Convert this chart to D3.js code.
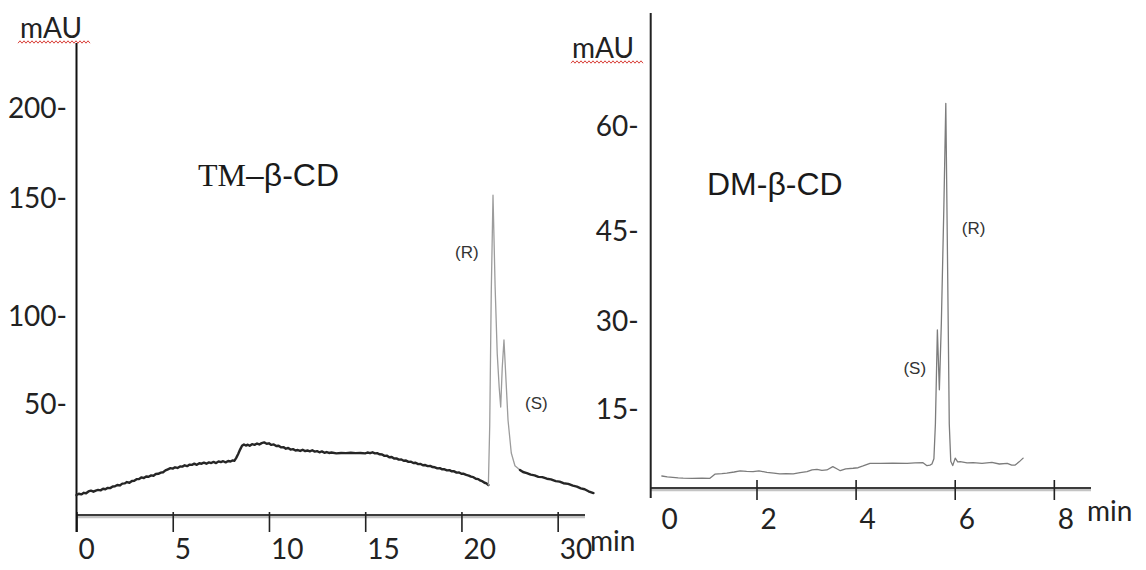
<!DOCTYPE html>
<html>
<head>
<meta charset="utf-8">
<script src="https://cdn.jsdelivr.net/npm/d3@7"></script>
<style>
  html, body { margin: 0; padding: 0; background: #ffffff; }
  svg { display: block; }
</style>
</head>
<body>
<svg id="chart" width="1146" height="570"></svg>
<script>
// ---------- TM-β-CD run ----------
const tmYTicks = [50, 100, 150, 200];
const tmXTicks = [0, 5, 10, 15, 20, 25];
const tmXTickLabels = ["0", "5", "10", "15", "20", "30"];

// detector baseline before the enantiomer peaks [min, mAU]
const tmBaseline = [
  [0.00, 8.9], [0.12, 9.5], [0.25, 9.2], [0.38, 9.9], [0.50, 9.7], [0.62, 10.5],
  [0.75, 10.9], [0.88, 10.4], [1.00, 10.9], [1.12, 11.2], [1.25, 11.0], [1.38, 11.7],
  [1.50, 11.5], [1.62, 12.1], [1.75, 12.0], [1.88, 12.7], [2.00, 12.8], [2.12, 13.4],
  [2.25, 13.2], [2.38, 14.0], [2.50, 14.1], [2.62, 14.7], [2.75, 14.4], [2.88, 15.2],
  [3.00, 15.3], [3.12, 16.0], [3.25, 16.1], [3.38, 16.8], [3.50, 16.5], [3.62, 17.2],
  [3.75, 17.1], [3.88, 17.7], [4.00, 17.5], [4.12, 18.3], [4.25, 18.4], [4.38, 18.9],
  [4.50, 19.1], [4.62, 19.9], [4.75, 20.4], [4.88, 20.9], [5.00, 20.7], [5.12, 21.3],
  [5.25, 21.0], [5.38, 21.7], [5.50, 21.6], [5.62, 22.2], [5.75, 21.8], [5.88, 22.5],
  [6.00, 22.4], [6.12, 22.9], [6.25, 22.4], [6.38, 23.1], [6.50, 22.9], [6.62, 23.4],
  [6.75, 22.9], [6.88, 23.5], [7.00, 23.2], [7.12, 23.7], [7.25, 23.2], [7.38, 23.9],
  [7.50, 23.6], [7.62, 24.0], [7.75, 23.5], [7.88, 24.1], [8.00, 23.9], [8.12, 24.4],
  [8.20, 24.2], [8.30, 25.5], [8.40, 27.2], [8.50, 29.2], [8.60, 30.9], [8.70, 31.5],
  [8.80, 31.0], [8.90, 31.4], [9.00, 30.9], [9.12, 31.6], [9.25, 31.3], [9.38, 31.9],
  [9.50, 31.5], [9.62, 32.1], [9.75, 32.4], [9.88, 31.8], [10.00, 32.0], [10.12, 31.3],
  [10.25, 31.5], [10.38, 30.8], [10.50, 30.9], [10.62, 30.2], [10.75, 30.3], [10.88, 29.6],
  [11.00, 29.9], [11.12, 29.2], [11.25, 29.4], [11.38, 28.8], [11.50, 29.0], [11.62, 28.6],
  [11.75, 29.1], [11.88, 28.5], [12.00, 28.8], [12.12, 28.4], [12.25, 28.9], [12.38, 28.3],
  [12.50, 28.5], [12.62, 28.0], [12.75, 28.4], [12.88, 27.8], [13.00, 28.1], [13.12, 27.7],
  [13.25, 27.9], [13.50, 27.5], [13.75, 27.7], [14.00, 27.6], [14.25, 27.8], [14.50, 27.6],
  [14.75, 27.7], [15.00, 27.5], [15.12, 27.9], [15.25, 27.6], [15.38, 28.0], [15.50, 27.5],
  [15.62, 27.6], [15.75, 27.1], [15.88, 27.0], [16.00, 26.4], [16.12, 26.5], [16.25, 25.8],
  [16.38, 25.9], [16.50, 25.2], [16.62, 25.3], [16.75, 24.7], [16.88, 24.8], [17.00, 24.2],
  [17.12, 24.3], [17.25, 23.7], [17.38, 23.8], [17.50, 23.2], [17.62, 23.3], [17.75, 22.7],
  [17.88, 22.8], [18.00, 22.2], [18.12, 22.3], [18.25, 21.8], [18.38, 21.9], [18.50, 21.4],
  [18.62, 21.3], [18.75, 20.8], [18.88, 20.9], [19.00, 20.4], [19.12, 20.4], [19.25, 19.9],
  [19.38, 20.0], [19.50, 19.5], [19.62, 19.5], [19.75, 18.9], [19.88, 19.0], [20.00, 18.4],
  [20.12, 18.4], [20.25, 17.9], [20.38, 17.6], [20.50, 17.1], [20.62, 16.9], [20.75, 16.2],
  [20.88, 16.0], [21.00, 15.3], [21.10, 15.0], [21.20, 14.4], [21.30, 14.1], [21.40, 13.4]
];

// (R) and (S) peaks
const tmPeaks = [
  [21.40, 13.4], [21.47, 40.0], [21.55, 110.0], [21.64, 151.0], [21.75, 112.0],
  [21.86, 78.0], [21.96, 59.1], [22.04, 48.2], [22.12, 70.0], [22.21, 85.8],
  [22.32, 62.0], [22.42, 42.4], [22.59, 27.7], [22.78, 22.0], [23.04, 20.1]
];

// baseline after the peaks
const tmTail = [
  [23.04, 20.1], [23.20, 19.2], [23.40, 18.7], [23.60, 18.0], [23.80, 17.7], [24.00, 17.0],
  [24.20, 16.9], [24.44, 16.2], [24.65, 15.9], [24.90, 15.1], [25.10, 14.9], [25.30, 14.2],
  [25.55, 13.9], [25.79, 13.1], [26.00, 12.7], [26.20, 11.9], [26.40, 11.5], [26.60, 10.6],
  [26.86, 9.8]
];

const tmPeakNames = [
  { text: "(R)", t: 21.64, v: 151.0 },
  { text: "(S)", t: 22.21, v: 85.8 }
];

// ---------- DM-β-CD run ----------
const dmYTicks = [15, 30, 45, 60];
const dmXTicks = [2, 4, 6, 8];
const dmXLabelValues = [0, 2, 4, 6, 8];
const dmXTickLabels = ["0", "2", "4", "6", "8"];

const dmTrace = [
  [0.09, 2.25], [0.20, 2.10], [0.31, 2.00], [0.42, 1.90], [0.52, 1.85], [0.70, 1.80],
  [0.90, 1.85], [1.06, 1.82], [1.16, 2.60], [1.30, 2.70], [1.40, 2.80], [1.55, 3.00],
  [1.67, 3.20], [1.80, 3.10], [1.93, 3.06], [2.05, 3.20], [2.21, 2.94], [2.35, 2.80],
  [2.47, 2.63], [2.60, 2.70], [2.74, 2.63], [2.88, 2.90], [3.02, 3.06], [3.12, 3.40],
  [3.22, 3.50], [3.32, 3.30], [3.42, 3.38], [3.54, 4.00], [3.62, 3.60], [3.69, 3.24],
  [3.80, 3.60], [3.95, 3.70], [4.05, 3.80], [4.15, 4.13], [4.29, 4.63], [4.50, 4.60],
  [4.75, 4.65], [5.04, 4.63], [5.20, 4.70], [5.36, 4.74], [5.44, 4.18], [5.50, 4.30],
  [5.54, 4.50], [5.58, 5.50], [5.61, 12.0], [5.65, 28.3], [5.69, 18.1], [5.73, 29.5],
  [5.78, 48.0], [5.82, 63.1], [5.86, 36.0], [5.89, 12.0], [5.92, 5.00], [5.96, 4.20],
  [6.01, 5.60], [6.06, 4.90], [6.11, 4.93], [6.25, 4.70], [6.37, 4.74], [6.55, 4.60],
  [6.75, 4.80], [6.90, 4.50], [7.06, 4.63], [7.15, 4.30], [7.22, 4.30], [7.30, 4.90],
  [7.38, 5.60]
];

const dmPeakNames = [
  { text: "(R)", t: 5.82, v: 63.1 },
  { text: "(S)", t: 5.65, v: 28.3 }
];

// ---------- layout ----------
const panels = [
  {
    title: [{ text: "TM", font: "'Liberation Serif', 'Times New Roman', serif" },
            { text: "–β-CD", font: "'Liberation Sans', Arial, sans-serif" }],
    titlePos: [198, 186],
    xDomain: [0, 26.42], xRange: [76.5, 585],
    yDomain: [0, 50, 100, 150, 200], yStops: [515, 403, 315, 197, 107],
    axisTop: 43, axisBelow: 17,
    yTicks: tmYTicks, yLabelGap: 9.5,
    xTicks: tmXTicks, xLabelValues: tmXTicks, xLabels: tmXTickLabels,
    xLabelDx: 2, xLabelBaseline: 44, tickUp: 3, tickDown: 17,
    minPos: [590, 551],
    unitPos: [20, 38], squiggle: [18, 90, 42],
    series: [
      { data: tmBaseline, color: "#262626", width: 2.4 },
      { data: tmPeaks, color: "#9c9c9c", width: 1.3 },
      { data: tmTail, color: "#262626", width: 2.4 }
    ],
    peakNames: tmPeakNames, peakOffsets: [[-38, 63], [21, 69]],
    yAxisColor: "#111", xAxisColor: "#3c3c3c"
  },
  {
    title: [{ text: "DM-β-CD", font: "'Liberation Sans', Arial, sans-serif" }],
    titlePos: [707, 195],
    xDomain: [-0.135, 8.75], xRange: [650.7, 1091],
    yDomain: [0, 15, 30, 45, 60], yStops: [488, 408, 320, 230, 125],
    axisTop: 13, axisBelow: 10,
    yTicks: dmYTicks, yLabelGap: 12,
    xTicks: dmXTicks, xLabelValues: dmXLabelValues, xLabels: dmXTickLabels,
    xLabelDx: 4, xLabelBaseline: 41, tickUp: 8, tickDown: 12,
    minPos: [1087, 521],
    unitPos: [572, 58], squiggle: [571, 644, 62],
    series: [
      { data: dmTrace, color: "#7c7c7c", width: 1.3 }
    ],
    peakNames: dmPeakNames, peakOffsets: [[16, 131], [-34, 44]],
    yAxisColor: "#222", xAxisColor: "#3c3c3c"
  }
];

const svg = d3.select("#chart");
const labelFont = "Lato, 'Open Sans', sans-serif";

panels.forEach(p => {
  const x = d3.scaleLinear().domain(p.xDomain).range(p.xRange);
  const y = d3.scaleLinear().domain(p.yDomain).range(p.yStops);
  const x0 = p.xRange[0];
  const y0 = p.yStops[0];
  const g = svg.append("g");

  // soft shadow under the time axis
  g.append("line")
    .attr("x1", x0).attr("x2", p.xRange[1])
    .attr("y1", y0 + 2).attr("y2", y0 + 2)
    .attr("stroke", "#c4c4c4").attr("stroke-width", 2.5);

  // time axis
  const xAxis = d3.axisBottom(x)
    .tickValues(p.xTicks)
    .tickSize(p.tickDown)
    .tickFormat("");
  const xg = g.append("g").attr("transform", `translate(0,${y0})`).call(xAxis);
  xg.select(".domain").attr("stroke", p.xAxisColor).attr("stroke-width", 2.2)
    .attr("d", `M${x0},0H${p.xRange[1]}`);
  xg.selectAll(".tick line")
    .attr("y1", -p.tickUp).attr("y2", p.tickDown)
    .attr("stroke", "#222").attr("stroke-width", 1.6);

  // time labels, left-aligned on their ticks
  g.selectAll(".xlab")
    .data(p.xLabelValues)
    .join("text")
    .attr("x", d => x(d) + p.xLabelDx)
    .attr("y", y0 + p.xLabelBaseline)
    .attr("font-family", labelFont)
    .attr("font-size", 28)
    .attr("fill", "#222")
    .text((d, i) => p.xLabels[i]);

  g.append("text")
    .attr("x", p.minPos[0]).attr("y", p.minPos[1])
    .attr("font-family", labelFont).attr("font-size", 28).attr("fill", "#222")
    .text("min");

  // absorbance axis
  g.append("line")
    .attr("x1", x0).attr("x2", x0)
    .attr("y1", p.axisTop).attr("y2", y0 + p.axisBelow)
    .attr("stroke", p.yAxisColor).attr("stroke-width", 2);

  const yAxis = d3.axisLeft(y)
    .tickValues(p.yTicks)
    .tickSize(0)
    .tickPadding(p.yLabelGap)
    .tickFormat(d => d + "-");
  const yg = g.append("g").attr("transform", `translate(${x0},0)`).call(yAxis);
  yg.select(".domain").remove();
  yg.selectAll(".tick text")
    .attr("font-family", labelFont)
    .attr("font-size", 28)
    .attr("fill", "#222")
    .attr("dy", "0.36em");

  // unit label with its wavy underline
  g.append("text")
    .attr("x", p.unitPos[0]).attr("y", p.unitPos[1])
    .attr("font-family", labelFont).attr("font-size", 28).attr("fill", "#222")
    .text("mAU");
  const [sx0, sx1, sy] = p.squiggle;
  const wave = d3.range(sx0, sx1 + 0.1, 2).map((sx, i) => [sx, sy + (i % 2 ? -1.2 : 1.2)]);
  g.append("path")
    .attr("d", d3.line()(wave))
    .attr("fill", "none").attr("stroke", "#d9403a").attr("stroke-width", 1);

  // chromatogram traces
  const line = d3.line().x(d => x(d[0])).y(d => y(d[1]));
  p.series.forEach(s => {
    g.append("path")
      .datum(s.data)
      .attr("d", line)
      .attr("fill", "none")
      .attr("stroke", s.color)
      .attr("stroke-width", s.width)
      .attr("stroke-linejoin", "round")
      .attr("stroke-linecap", "round");
  });

  // enantiomer labels placed beside their peak apex
  p.peakNames.forEach((pk, i) => {
    g.append("text")
      .attr("x", x(pk.t) + p.peakOffsets[i][0])
      .attr("y", y(pk.v) + p.peakOffsets[i][1])
      .attr("font-family", "'Liberation Sans', Arial, sans-serif")
      .attr("font-size", 17)
      .attr("fill", "#333")
      .text(pk.text);
  });

  // run title
  const title = g.append("text")
    .attr("x", p.titlePos[0]).attr("y", p.titlePos[1])
    .attr("font-size", 32).attr("fill", "#1a1a1a");
  p.title.forEach(part => {
    title.append("tspan").attr("font-family", part.font).text(part.text);
  });
});
</script>
</body>
</html>
